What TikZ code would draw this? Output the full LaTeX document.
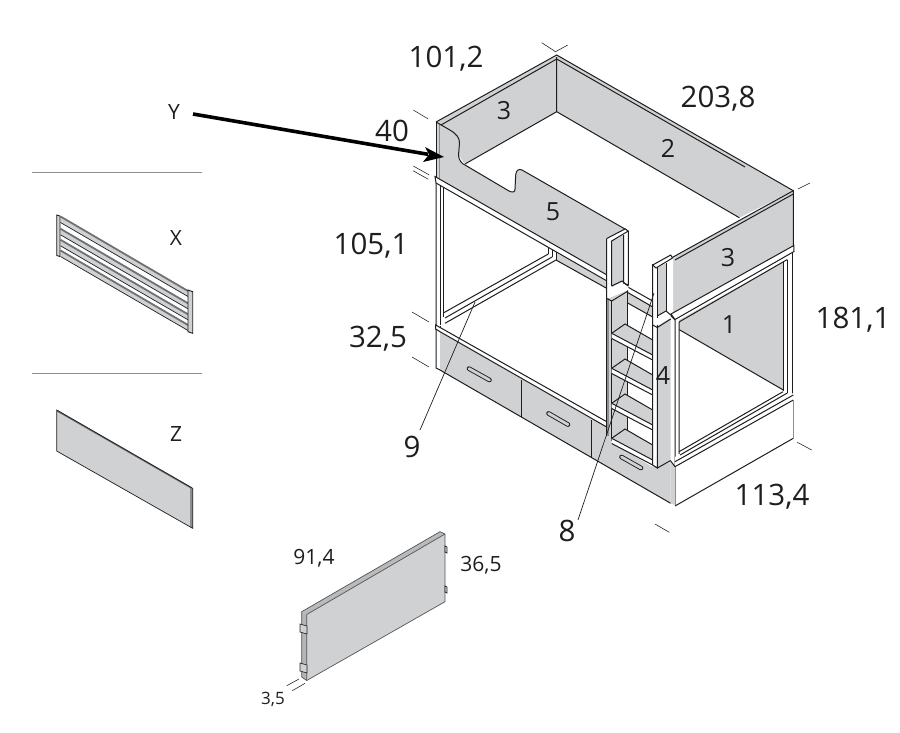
\documentclass[tikz,border=0pt]{standalone}
\usepackage{fontspec}
\setmainfont{Open Sans}
\definecolor{pg}{HTML}{D0D1D3}
\definecolor{dg}{HTML}{8C8E90}
\definecolor{ink}{HTML}{1E1E1E}
\tikzset{
 ln/.style={draw=ink,line width=1pt},
 thin/.style={draw=ink,line width=.7pt},
 tick/.style={draw=ink,line width=.55pt},
 big/.style={font=\fontsize{29.5}{34}\selectfont,text=ink,inner sep=0pt},
 mid/.style={font=\fontsize{21}{25}\selectfont,text=ink,inner sep=0pt},
 num/.style={font=\fontsize{25}{30}\selectfont,text=ink,inner sep=0pt},
 sml/.style={font=\fontsize{17}{20}\selectfont,text=ink,inner sep=0pt},
 pillout/.style={draw=ink,line width=4.6pt,line cap=round},
 pillin/.style={draw=pg,line width=2.8pt,line cap=round},
}
\begin{document}
\begin{tikzpicture}[x=1pt,y=-1pt]
\useasboundingbox (0,0) rectangle (900,732);
\fill[white] (0,0) rectangle (900,732);
% separators
\draw[dg,line width=.6pt] (32,172.5)--(202,172.5) (32,373)--(202,373);
% ---------- top back panels
\fill[pg] (436,122)--(556.7,55)--(556.7,111.7)--(465,164)--(455,150)--(439.5,130)--cycle;
\fill[pg] (556.7,55)--(793.3,190.7)--(739.3,217.7)--(556.7,111.7)--cycle;
\draw[ln] (436,122)--(556.7,55)--(793.3,190.7);
\draw[ln] (441,125)--(556.7,59)--(745,167);
\draw[ln] (556.7,57)--(556.7,111.7) (465,164)--(556.7,111.7)--(739.3,217.7);
% ---------- floor-level right panel 1
\fill[pg] (679,320)--(783.3,261.7)--(783.3,390)--(679,329.5)--cycle;
\draw[ln] (679,329.5)--(783.3,390);
% ---------- front panel 5
\fill[pg] (436,122) -- (439.5,124) -- (449,129.5) .. controls (457,134) and (459.5,138) .. (459.5,143)
 -- (458.5,155) .. controls (458.5,160) and (462,164) .. (465,165)
 -- (509,191) .. controls (513,193) and (515,192) .. (515,189)
 -- (515.7,175) .. controls (516,170) and (519,168.5) .. (522,170)
 -- (626.7,230) -- (607,240) -- (607,275) -- (436,177.3) -- cycle;
\draw[dg,line width=1.2pt] (439.5,124)--(439.5,179);
\draw[ln] (436,122)--(436,177.3);
\draw[ln] (436,122) -- (449,129.5) .. controls (457,134) and (459.5,138) .. (459.5,143)
 -- (458.5,155) .. controls (458.5,160) and (462,164) .. (465,165)
 -- (509,191) .. controls (513,193) and (515,192) .. (515,189)
 -- (515.7,175) .. controls (516,170) and (519,168.5) .. (522,170)
 -- (626.7,230);
% grey underside behind rail
\fill[pg] (556.7,253.3)--(607,281)--(607,288.5)--(556,260)--cycle;
\draw[ln] (556,260)--(607,288.5);
% ---------- rear-left rail and left legs
\draw[ln] (443.3,313)--(548.3,254) (445,318)--(552,257) (445,323.3)--(556,260);
\draw[ln] (548.3,246)--(548.3,254) (552,247)--(552,257) (556,249)--(556,260);
\draw[ln] (443.3,183)--(443.3,317) (440,181)--(440,325);
% front top rail
\fill[white,draw=ink,line width=1pt] (435,176.5)--(607,275)--(607,281)--(443,187)--(436,183)--cycle;
\draw[ln] (436,183)--(436,368)--(440,370);
\draw[ln] (440,326)--(440,370);
% ---------- drawers
\fill[pg] (440,331.7)--(607,427)--(612,430)--(656,468)--(670.7,462)--(670.7,503.3)--(440,370)--cycle;
\draw[ln] (440,370)--(670.7,503.3);
\fill[white,draw=ink,line width=1pt] (435.7,325)--(606.7,421.7)--(606.7,427)--(440,331.7)--(435.7,329)--cycle;
\draw[ln] (521.7,380)--(521.7,416.5) (591.7,420)--(591.7,456.7);
\draw[pillout] (469,368.6)--(489.5,380);
\draw[pillin] (469,368.6)--(489.5,380);
\draw[pillout] (548.5,413.4)--(568,424.6);
\draw[pillin] (548.5,413.4)--(568,424.6);
\draw[pillout] (621.5,457)--(641,468);
\draw[pillin] (621.5,457)--(641,468);
% ---------- ladder
\fill[pg] (606.7,297)--(628,290)--(652.7,305)--(657,470)--(606.7,440)--cycle;
\fill[white] (627.7,303)--(652.7,317)--(652.7,467)--(627.7,452)--cycle;
\fill[white] (627.7,286)--(652.7,301)--(652.7,306)--(627.7,292)--cycle;
\draw[ln] (627.7,287)--(652.7,301) (627.7,292.5)--(652.7,307) (627.7,303)--(652.7,317);
\draw[dg,line width=1.2pt] (608,298)--(608,436);
\draw[ln] (606.7,298)--(606.7,436) (611.7,300)--(611.7,441);
\draw[ln] (627.7,289)--(627.7,451);
% steps
\foreach \d in {0,35,70,105}{
 \fill[pg] (611.7,{333.3+\d})--(625,{324+\d})--(652.7,{340+\d})--(652.7,{355+\d})--cycle;
 \fill[white] (611.7,{333.3+\d})--(652.7,{355+\d})--(652.7,{360+\d})--(611.7,{338.5+\d})--cycle;
 \draw[ln] (611.7,{333.3+\d})--(625,{324+\d})--(652.7,{340+\d});
 \draw[ln] (611.7,{333.3+\d})--(652.7,{355+\d}) (611.7,{338.5+\d})--(652.7,{360+\d});
}
% right ladder post
\fill[pg] (657.3,326)--(670.7,318)--(670.7,461)--(657.3,468)--cycle;
\fill[white] (652.7,320)--(657.3,325)--(657.3,468)--(652.7,465)--cycle;
\draw[ln] (652.7,264)--(652.7,465)--(657.3,468)--(657.3,324);
\draw[ln] (657.3,468)--(670.7,460.5);
% left handrail
\fill[white] (606.7,238.5)--(625,229)--(628.3,231)--(628.3,290)--(606.7,299)--cycle;
\fill[pg] (612,241)--(623.5,235)--(623.5,281)--(612,287)--cycle;
\draw[ln] (606.7,238.5)--(625,229)--(628.3,231)--(611.7,241)--(611.7,286);
\draw[ln] (606.7,238.5)--(606.7,298.5)--(611.7,301)--(628,291);
\draw[ln] (623.5,235)--(623.5,283)--(628.3,285)--(628.3,231);
\draw[ln] (611.7,286)--(622,281)--(628,286);
% right panel 3
\fill[pg] (670.7,258.3)--(793.3,190.7)--(793.3,247)--(675,315)--(670.7,312)--cycle;
\draw[dg,line width=1pt] (671,259)--(671,311);
\draw[ln] (670.7,258.3)--(793.3,190.7)--(793.3,247);
\draw[ln] (675,260)--(793.3,194);
% right handrail
\fill[white] (652.7,265)--(670.7,255)--(673,258)--(673,315)--(657.3,325)--(652.7,325)--cycle;
\fill[pg] (657.5,268)--(666.7,263)--(666.7,311)--(657.5,316)--cycle;
\draw[ln] (652.7,265)--(670.7,255)--(672.5,258)--(656,268)--cycle;
\draw[ln] (652.7,265)--(652.7,325)--(657.3,327.5)--(670.7,319);
\draw[ln] (657.3,267)--(657.3,318) (666.7,263)--(666.7,312);
\draw[ln] (657.3,316)--(666,311)--(672,316);
% right frame
\fill[white] (675,320)--(679,320)--(679,458)--(675,462)--cycle;
\fill[white] (783.3,259)--(792.7,254)--(792.7,396)--(783.3,391)--cycle;
\draw[ln] (671,316)--(675,320)--(675,465) (679,322)--(679,454);
\draw[ln] (783.3,262)--(783.3,391) (787.3,259.5)--(787.3,393) (792.7,251)--(792.7,396);
\fill[white,draw=ink,line width=1pt] (671,314)--(793.8,245.5)--(794,251.5)--(675,319.5)--cycle;
\draw[ln] (679,322)--(787.3,259.5);
% plinth
\fill[white] (675,457)--(793.3,393)--(793.3,438.3)--(675,506)--cycle;
\fill[pg] (670.7,462)--(675,466)--(675,505)--(670.7,503.3)--cycle;
\draw[ln] (679,451.7)--(783,391.7) (680,455)--(787.3,393) (675,461.7)--(793.3,395) (675,466.7)--(793.3,400);
\draw[ln] (670.7,461)--(675,466.7);
\draw[dg,line width=1pt] (793.3,400)--(793.3,438.3) (675,467)--(675,505);
\draw[ln] (675,506)--(793.3,438.3);
% ---------- X panel
\foreach \s in {0,12.3,23.3,34}{
 \fill[pg] (60.5,{216+\s})--(188,{290.5+\s})--(188,{296.5+\s})--(60.5,{222.5+\s})--cycle;
 \draw[dg!80!black,line width=1.8pt] (60.5,{216.5+\s})--(188,{291+\s});
 \draw[ink,line width=.7pt] (60.5,{222.5+\s})--(188,{296.5+\s});
}
\fill[pg] (56.7,215)--(60,216.5)--(60,256.5)--(56.7,255.5)--cycle;
\fill[pg] (188,290)--(192.7,291.5)--(192.7,333.5)--(188,331.7)--cycle;
\draw[ink,line width=.9pt] (56.7,215)--(60,216)--(60,256.5)--(56.7,255.5)--cycle (188,290)--(192.7,291.7)--(192.7,333.3)--(188,331.7)--cycle;
% ---------- Z panel
\fill[pg] (56.7,410)--(192.7,488.3)--(192.7,528.3)--(56.7,451)--cycle;
\fill[dg] (190,487)--(192.7,488.3)--(192.7,528.3)--(190,527)--cycle;
\draw[dg!80!black,line width=1.6pt] (57.5,411)--(191.5,488);
\draw[ink,line width=.7pt] (56.7,410)--(192.7,488.3)--(192.7,528.3)--(56.7,451)--cycle;
% ---------- small panel
\fill[pg] (301.7,611.7)--(440,531.7)--(445,534)--(445,601.7)--(306.7,680.5)--(301.7,677)--cycle;
\fill[dg!40!pg] (301.7,611.7)--(306.7,614.5)--(306.7,680.5)--(301.7,677)--cycle;
\fill[dg!35!pg] (301.7,611.7)--(440,531.7)--(445,534)--(306.7,614.5)--cycle;
\draw[dg!60!black,line width=.7pt] (301.7,611.7)--(440,531.7)--(445,534)--(445,601.7)--(306.7,680.5)--(301.7,677)--cycle;
\draw[dg!60!black,line width=.7pt] (306.7,614.5)--(445,534) (306.7,614.5)--(306.7,680.5);
\draw[dg!30!black,line width=.7pt,fill=pg] (300,624)--(307,626)--(307,634)--(300,632)--cycle;
\draw[dg!30!black,line width=.7pt,fill=pg] (300,663)--(307,665)--(307,673)--(300,671)--cycle;
\draw[dg!30!black,line width=.7pt,fill=pg] (445,546)--(447,547)--(447,553)--(445,552)--cycle;
\draw[dg!30!black,line width=.7pt,fill=pg] (445,586)--(447,587)--(447,593)--(445,592)--cycle;
% ---------- ticks
\draw[tick] (541.7,42.7)--(556,52) (567.7,45)--(555,52)
 (413.3,110)--(428.3,119) (413.3,166)--(429.3,175) (413,170.7)--(428.3,179.3)
 (798,189)--(810,183) (412,312)--(429,322) (412,357)--(429,367)
 (797.3,442.3)--(811.7,450) (655,524)--(669.3,532.3)
 (286.7,685.7)--(299,679) (292.3,690.7)--(305,683.3);
% ---------- leader lines
\coordinate (l8a) at (654,293);\coordinate (l8b) at (578,520);
\coordinate (l9a) at (475,302);\coordinate (l9b) at (420,430);
\draw[thin] (l8a)--(l8b) (l9a)--(l9b);
% arrow
\coordinate (ya) at (193,114);\coordinate (yb) at (444,157);
\draw[black,line width=3.6pt] (ya)--(428,154.3);
\fill[black] (yb)--(425,147)--(429,154.5)--(423,162)--cycle;
% ---------- labels
\node[big] (t1) at (446,59) {101,2};
\node[big] (t2) at (718,99) {203,8};
\node[big] (t3) at (392,131) {40};
\node[big] (t4) at (371,246) {105,1};
\node[big] (t5) at (378,339) {32,5};
\node[big] (t6) at (412,447) {9};
\node[big] (t7) at (567,531) {8};
\node[big] (t8) at (772,497) {113,4};
\node[big] (t9) at (853,320) {181,1};
\node[num] (n1) at (504,111) {3};
\node[num] (n2) at (668,148) {2};
\node[num] (n3) at (553,212) {5};
\node[num] (n4) at (728,258) {3};
\node[num] (n5) at (729,325) {1};
\node[num] (n6) at (663,376) {4};
\node[mid] (y) at (174,112) {Y};
\node[mid] (x) at (176,238) {X};
\node[mid] (z) at (176,434) {Z};
\node[mid] (d1) at (314,558) {91,4};
\node[mid] (d2) at (481,565) {36,5};
\node[sml] (d3) at (273,699) {3,5};
\end{tikzpicture}
\end{document}
